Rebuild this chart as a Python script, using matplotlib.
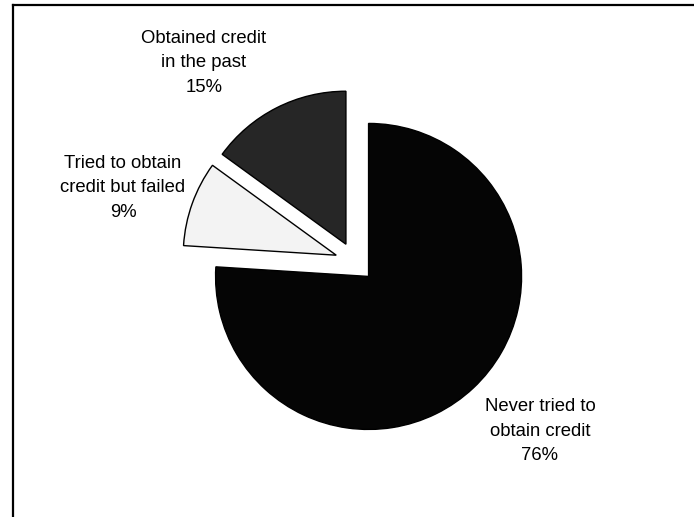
import matplotlib
matplotlib.use("Agg")
import matplotlib.pyplot as plt
from matplotlib.lines import Line2D

# credit history of respondents (percent)
categories = ["Never tried to\nobtain credit",
              "Tried to obtain\ncredit but failed",
              "Obtained credit\nin the past"]
shares = [76, 9, 15]

colors = ["#050505", "#f3f3f3", "#262626"]
explode = [0.13, 0.13, 0.13]
# label centres in data units (radius = 1)
label_pos = [(1.209, -1.105), (-1.516, 0.484), (-0.987, 1.301)]

plt.rcParams['font.family'] = ['Liberation Sans', 'DejaVu Sans']

fig = plt.figure(figsize=(6.94, 5.17), dpi=100)
ax = fig.add_axes([0, 0, 1, 1])

labels = ["{}\n{}%".format(c, v) for c, v in zip(categories, shares)]
wedges, texts = ax.pie(shares, labels=labels, colors=colors, explode=explode,
                       startangle=90, counterclock=False, radius=1.0,
                       wedgeprops=dict(edgecolor="black", linewidth=1.0),
                       textprops=dict(fontsize=13.3, ha="center", va="center",
                                      multialignment="center", linespacing=1.6))
for t, xy in zip(texts, label_pos):
    t.set_position(xy)

ax.set_xlim(-2.320, 2.216)
ax.set_ylim(-1.667, 1.712)
ax.set_aspect("equal")
ax.axis("off")

# frame lines on top and left
fig.add_artist(Line2D([13 / 694, 13 / 694], [0, 1 - 5 / 517], transform=fig.transFigure,
                      color="black", linewidth=1.6))
fig.add_artist(Line2D([13 / 694, 1], [1 - 5 / 517, 1 - 5 / 517], transform=fig.transFigure,
                      color="black", linewidth=1.6))

fig.savefig("out.png", dpi=100, facecolor="white")
